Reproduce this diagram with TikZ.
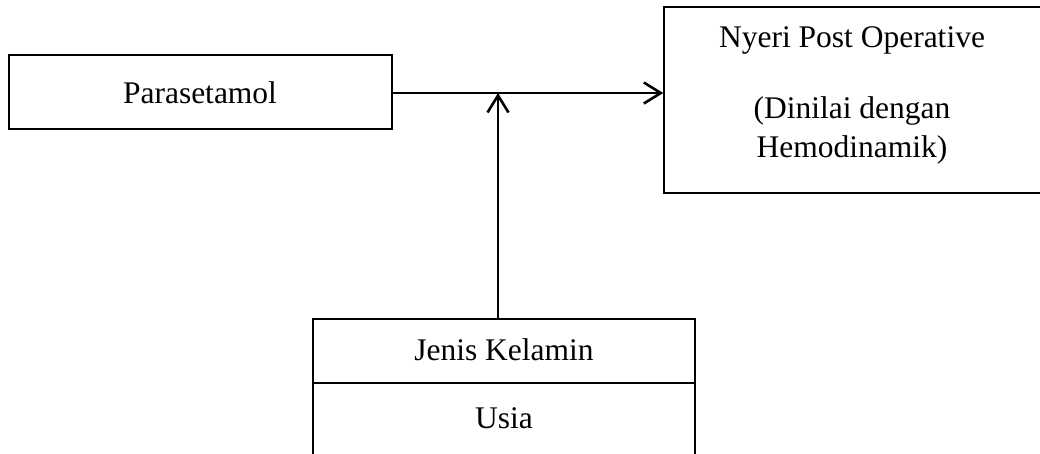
\documentclass[tikz,border=0pt]{standalone}
\usepackage{fontspec}
\setmainfont{Liberation Serif}
\usetikzlibrary{arrows.meta}
\begin{document}
\begin{tikzpicture}[x=1pt,y=-1pt,
  box/.style={draw, line width=1.4pt, rectangle, inner sep=0pt},
  lbl/.style={anchor=base, inner sep=0pt, font=\fontsize{31.5}{39}\selectfont},
  conn/.style={line width=2.6pt, -{Straight Barb[length=17pt,width=21pt,line width=2.6pt]}}]
\useasboundingbox (0,0) rectangle (1040,453);
\clip (0,0) rectangle (1040,453);
% boxes
\node[box, minimum width=383pt, minimum height=74pt] (para) at (200.5,92) {};
\node[box, minimum width=381pt, minimum height=186pt] (nyeri) at (854.5,100) {};
\node[box, minimum width=382pt, minimum height=64pt] (jk) at (504,351) {};
\node[box, minimum width=382pt, minimum height=87pt] (usia) at (504,426.5) {};
% texts
\node[lbl] (tpara) at (200,103) {Parasetamol};
\node[lbl] (tnyeri1) at (852,47) {Nyeri Post Operative};
\node[lbl] (tnyeri2) at (852,118) {(Dinilai dengan};
\node[lbl] (tnyeri3) at (852,157) {Hemodinamik)};
\node[lbl] (tjk) at (504,360) {Jenis Kelamin};
\node[lbl] (tusia) at (504,428) {Usia};
% connectors
\coordinate (join) at (498,93);
\draw[conn] (para.east |- join) -- (nyeri.west |- join);
\draw[conn] (jk.north -| join) -- (join);
\end{tikzpicture}
\end{document}
